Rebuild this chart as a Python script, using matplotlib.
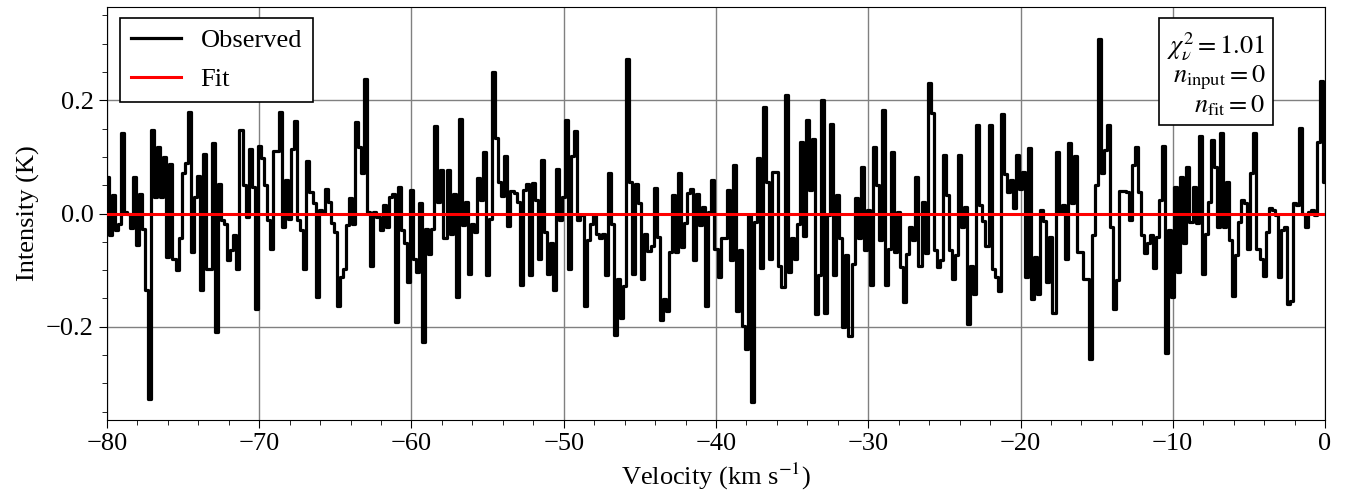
import numpy as np
import matplotlib
matplotlib.use("Agg")
import matplotlib.pyplot as plt
from matplotlib.ticker import MultipleLocator

plt.rcParams['font.family'] = ['Liberation Serif', 'DejaVu Serif']
plt.rcParams['mathtext.fontset'] = 'stix'

# Spectrum channels (centres), 0.2 km/s wide, starting at -80 km/s
v_start = -80.0
channel_width = 0.2

# Observed intensity per channel (K)
intensity = [
    # -80 .. -72
    0.065, -0.038, 0.033, -0.03, -0.018, 0.143, 0.003, 0.0, -0.025, 0.065,
    -0.055, 0.035, -0.028, -0.136, -0.328, 0.148, 0.03, 0.118, 0.03, 0.099,
    -0.077, 0.087, -0.08, -0.1, -0.043, 0.071, 0.09, 0.18, -0.068, 0.03,
    0.066, -0.136, 0.106, -0.098, -0.098, 0.124, -0.21, 0.053, -0.012, -0.018,
    -0.083,
    # -71.8 .. -64
    -0.065, -0.038, -0.098, 0.148, 0.05, -0.006, 0.114, 0.047, -0.169, 0.12,
    0.098, 0.05, -0.012, -0.062, 0.111, 0.111, 0.179, -0.024, 0.059, -0.009,
    0.114, 0.164, -0.012, -0.03, -0.098, 0.092, 0.038, 0.018, -0.148, 0.006,
    0.003, 0.044, 0.02, -0.017, -0.033, -0.163, -0.112, -0.098, -0.021, 0.027,
    # -63.8 .. -55.8
    -0.018, 0.161, 0.118, 0.071, 0.237, 0.003, -0.093, 0.003, -0.006, -0.03,
    0.015, -0.024, 0.03, 0.034, -0.192, 0.047, -0.03, -0.053, -0.121, 0.041,
    -0.08, -0.104, 0.018, -0.228, -0.027, -0.071, -0.028, 0.155, 0.021, 0.077,
    -0.044, 0.077, -0.036, 0.034, -0.148, 0.167, -0.021, 0.021, -0.107, -0.018,
    -0.033,
    # -55.6 .. -47.6
    0.062, 0.024, 0.108, -0.109, -0.009, 0.25, 0.133, 0.056, 0.031, 0.102,
    -0.022, 0.04, 0.037, 0.021, -0.127, 0.041, 0.052, -0.109, 0.054, 0.024,
    -0.08, 0.095, -0.033, -0.107, -0.053, -0.136, 0.078, -0.012, 0.03, 0.166,
    -0.098, 0.101, 0.145, -0.012, -0.003, -0.163, -0.047, -0.018, -0.003, -0.036,
    -0.044,
    # -47.4 .. -39.4
    -0.037, -0.109, 0.072, -0.018, -0.214, -0.115, -0.185, -0.129, 0.273, 0.056,
    -0.107, 0.052, 0.018, -0.115, -0.037, -0.066, -0.058, 0.045, -0.041, -0.189,
    -0.151, -0.172, -0.068, 0.033, -0.068, 0.071, -0.059, -0.017, 0.036, 0.043,
    -0.083, 0.034, -0.021, 0.012, -0.163, 0.003, 0.059, -0.062, -0.112, -0.044,
    -0.044,
    # -39.2 .. -31
    0.041, -0.083, 0.086, -0.172, -0.065, -0.198, -0.24, -0.003, -0.334, -0.015,
    0.098, -0.096, 0.189, 0.056, -0.08, 0.074, 0.074, -0.092, -0.13, 0.21,
    -0.104, -0.043, -0.08, -0.018, 0.127, -0.04, 0.166, 0.041, 0.131, -0.178,
    -0.109, 0.2, -0.175, -0.003, 0.158, -0.109, 0.033, -0.044, -0.2, -0.074,
    -0.216, -0.089,
    # -30.8 .. -22.8
    0.027, -0.044, 0.083, -0.064, 0.006, -0.127, 0.117, 0.05, -0.047, 0.183,
    -0.127, -0.062, 0.108, -0.068, 0.003, -0.095, -0.157, -0.071, -0.024, -0.047,
    0.065, -0.092, 0.021, -0.07, 0.231, 0.178, -0.065, -0.095, -0.083, 0.104,
    0.033, -0.065, -0.115, -0.074, 0.104, -0.024, 0.012, -0.195, -0.092, -0.142,
    0.157,
    # -22.6 .. -14.6
    0.015, -0.013, -0.058, 0.157, -0.098, -0.112, -0.137, 0.175, 0.07, 0.038,
    0.059, 0.009, 0.104, 0.044, 0.074, -0.112, 0.115, -0.151, -0.077, -0.142,
    0.006, -0.013, -0.121, -0.041, -0.176, 0.108, 0.001, 0.015, -0.08, 0.124,
    0.018, 0.102, -0.068, -0.068, -0.115, -0.115, -0.257, -0.038, 0.05, 0.308,
    0.071,
    # -14.4 .. -6.4
    0.112, 0.157, -0.024, -0.169, -0.118, 0.04, 0.04, 0.038, -0.012, 0.086,
    0.118, 0.038, -0.038, -0.07, -0.053, -0.038, -0.096, -0.041, 0.024, 0.12,
    -0.247, -0.03, -0.148, 0.047, -0.104, 0.065, -0.053, 0.083, -0.015, 0.047,
    -0.017, 0.137, -0.107, -0.036, 0.021, 0.13, 0.083, -0.024, 0.142, -0.024,
    0.056,
    # -6.2 .. 0
    -0.047, -0.145, -0.074, -0.015, 0.024, 0.018, -0.062, 0.071, 0.143, -0.062,
    -0.08, -0.111, -0.033, 0.009, 0.006, -0.003, -0.112, -0.03, -0.024, -0.16,
    -0.154, 0.018, 0.015, 0.151, 0.0, -0.024, 0.003, 0.006, -0.003, 0.127,
    0.234, 0.056,
]
velocity = v_start + channel_width * np.arange(len(intensity))

# Fitted model (no components fitted -> flat zero)
fit_velocity = [-80.0, 0.0]
fit_intensity = [0.0, 0.0]

chi2_nu = 1.01
n_input = 0
n_fit = 0

fig = plt.figure(figsize=(13.55, 4.95), dpi=100)
ax = fig.add_axes([107 / 1355, 75 / 495, 1218 / 1355, 413 / 495])

ax.step(velocity, intensity, where='mid', color='black', lw=2.3, label='Observed', zorder=3)
ax.plot(fit_velocity, fit_intensity, color='red', lw=2.2, label='Fit', zorder=4)

ax.set_xlim(-80, 0)
ax.set_ylim(-0.365, 0.365)
ax.xaxis.set_major_locator(MultipleLocator(10))
ax.xaxis.set_minor_locator(MultipleLocator(2))
ax.yaxis.set_major_locator(MultipleLocator(0.2))
ax.yaxis.set_minor_locator(MultipleLocator(0.05))
ax.tick_params(which='both', direction='out', labelsize=19)
ax.tick_params(which='major', length=6)
ax.tick_params(which='minor', length=3.5)
ax.grid(True, which='major', color='gray', lw=1.0)
ax.set_axisbelow(True)

ax.set_xlabel(r'Velocity (km s$^{-1}$)', fontsize=19)
ax.set_ylabel('Intensity (K)', fontsize=19)

leg = ax.legend(loc='upper left', fontsize=19, frameon=True, fancybox=False,
                edgecolor='black', framealpha=1, handlelength=1.9,
                handletextpad=0.75, labelspacing=0.6,
                borderaxespad=0, bbox_to_anchor=(0.0107, 0.973))
leg.get_frame().set_linewidth(1.2)

txt = (r'$\chi^2_\nu = %.2f$' % chi2_nu + '\n' +
       r'$n_{\rm input} = %d$' % n_input + '\n' +
       r'$n_{\rm fit} = %d$' % n_fit)
ax.text(0.951, 0.945, txt, transform=ax.transAxes, ha='right', va='top',
        fontsize=19, multialignment='right', linespacing=1.05,
        bbox=dict(boxstyle='square,pad=0.3', facecolor='white', edgecolor='black', lw=1.2),
        zorder=5)

fig.savefig('out.png', dpi=100)
